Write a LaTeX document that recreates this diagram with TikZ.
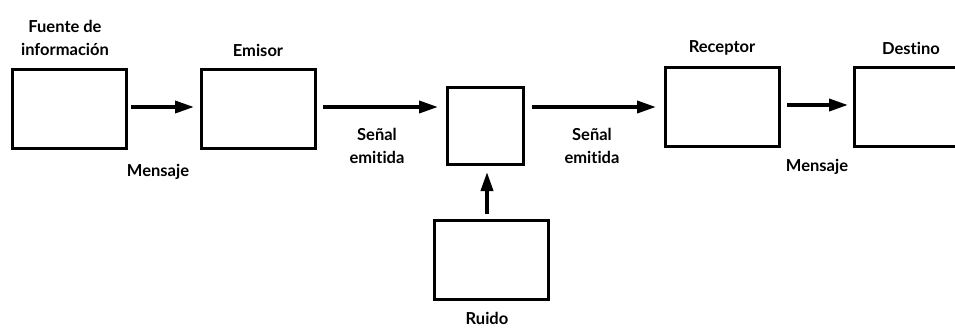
\documentclass[tikz,border=0pt]{standalone}
\usepackage{fontspec}
\setmainfont[Ligatures=NoCommon]{Lato}
\usetikzlibrary{arrows.meta}
\begin{document}
\begin{tikzpicture}[x=1pt,y=-1pt,
  box/.style={draw=black,line width=2.6pt,minimum width=114pt,minimum height=79pt,inner sep=0pt,fill=white},
  sq/.style={draw=black,line width=2.6pt,minimum width=76pt,minimum height=77pt,inner sep=0pt},
  lab/.style={font=\fontsize{16.5}{23}\selectfont\bfseries,align=center,inner sep=0pt},
  arr/.style={line width=3.6pt,-{Triangle[length=19pt,width=12pt]}}]
\clip (0,0) rectangle (955,327);
\fill[white] (0,0) rectangle (955,327);
\node[box,anchor=north west] (src) at (11,68) {};
\node[box,anchor=north west] (emi) at (200,68) {};
\node[sq,anchor=north west] (ch) at (446,86) {};
\node[box,anchor=north west] (rec) at (664,66) {};
\node[box,anchor=north west] (dst) at (853,66) {};
\node[box,anchor=north west] (noise) at (433,219) {};
% labels
\node[lab] (lsrc) at (65,38) {Fuente de\\información};
\node[lab] (lemi) at (258,50) {Emisor};
\node[lab] (lrec) at (722,48) {Receptor};
\node[lab] (ldst) at (911,48) {Destino};
\node[lab] (lnoise) at (487,318) {Ruido};
\node[lab] (m1) at (158,172) {Mensaje};
\node[lab] (m2) at (817,167) {Mensaje};
\node[lab] (s1) at (377,146) {Señal\\emitida};
\node[lab] (s2) at (592,146) {Señal\\emitida};
% arrows
\coordinate (a1s) at (131,107); \coordinate (a1e) at (194,107);
\coordinate (a2s) at (323,107); \coordinate (a2e) at (438,107);
\coordinate (a3s) at (532,107); \coordinate (a3e) at (656,107);
\coordinate (a4s) at (787,105); \coordinate (a4e) at (848,105);
\coordinate (a5s) at (487,214); \coordinate (a5e) at (487,172);
\draw[arr] (a1s) -- (a1e);
\draw[arr] (a2s) -- (a2e);
\draw[arr] (a3s) -- (a3e);
\draw[arr] (a4s) -- (a4e);
\draw[arr] (a5s) -- (a5e);
\end{tikzpicture}
\end{document}
